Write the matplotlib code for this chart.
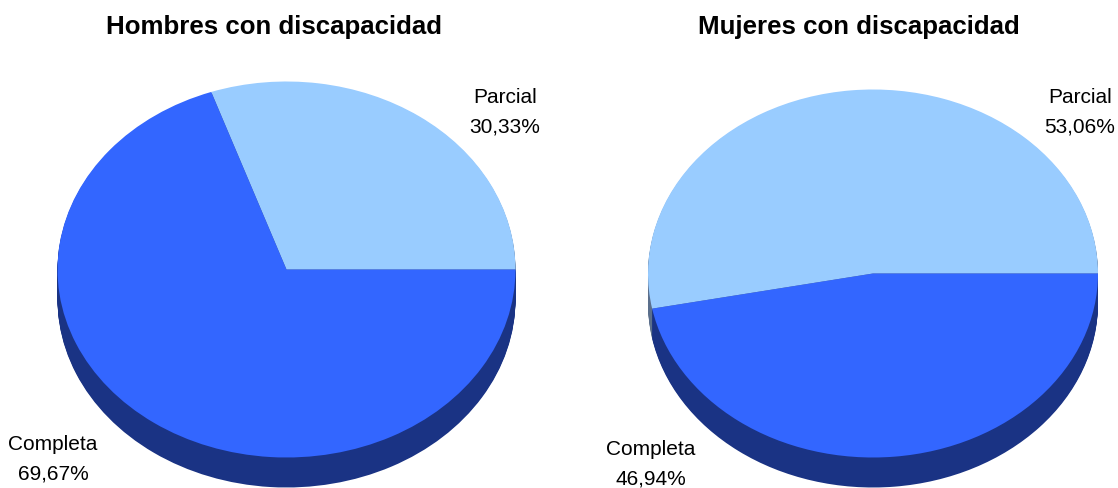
import matplotlib
matplotlib.use("Agg")
import matplotlib.pyplot as plt

W, H = 1118, 489
labels = ["Parcial", "Completa"]
hombres = [30.33, 69.67]
mujeres = [53.06, 46.94]
hombres_txt = ["30,33%", "69,67%"]
mujeres_txt = ["53,06%", "46,94%"]
colors = ["#99ccff", "#3366ff"]
dark = ["#5b6f8c", "#1a3384"]

plt.rcParams["font.family"] = ["Liberation Sans", "DejaVu Sans"]
fig = plt.figure(figsize=(W / 100, H / 100), dpi=100)


def draw_pie(values, txt, cx, cy, rx, ry, depth, title, title_x, pos):
    # axes in pixels, radius 1 of the pie maps to rx / ry
    ax = fig.add_axes([(cx - rx) / W, 0, 2 * rx / W, 1])
    d = depth / ry
    for i in range(30, 0, -1):
        ax.pie(values, colors=dark, radius=1, center=(0, -d * i / 30), startangle=0,
               frame=True, wedgeprops={"linewidth": 0})
    ax.pie(values, colors=colors, radius=1, center=(0, 0), startangle=0,
           frame=True, wedgeprops={"linewidth": 0})
    ax.set_aspect("auto")
    ax.set_xlim(-1, 1)
    ax.set_ylim((cy - H) / ry, cy / ry)
    ax.axis("off")
    fig.text(title_x / W, 1 - 27 / H, title, ha="center", va="center",
             fontsize=18.6, fontweight="bold", color="black")
    for i in range(2):
        x, y = pos[i]
        fig.text(x / W, 1 - y / H, labels[i] + "\n" + txt[i], ha="center", va="center",
                 fontsize=15, linespacing=1.68, color="black")


draw_pie(hombres, hombres_txt, 286.5, 270.5, 229, 188, 30, "Hombres con discapacidad", 274.5,
         [(505, 112), (53, 459)])
draw_pie(mujeres, mujeres_txt, 873, 274.5, 225, 184, 30, "Mujeres con discapacidad", 859,
         [(1080, 112), (651, 464)])

fig.savefig("out.png", dpi=100)
